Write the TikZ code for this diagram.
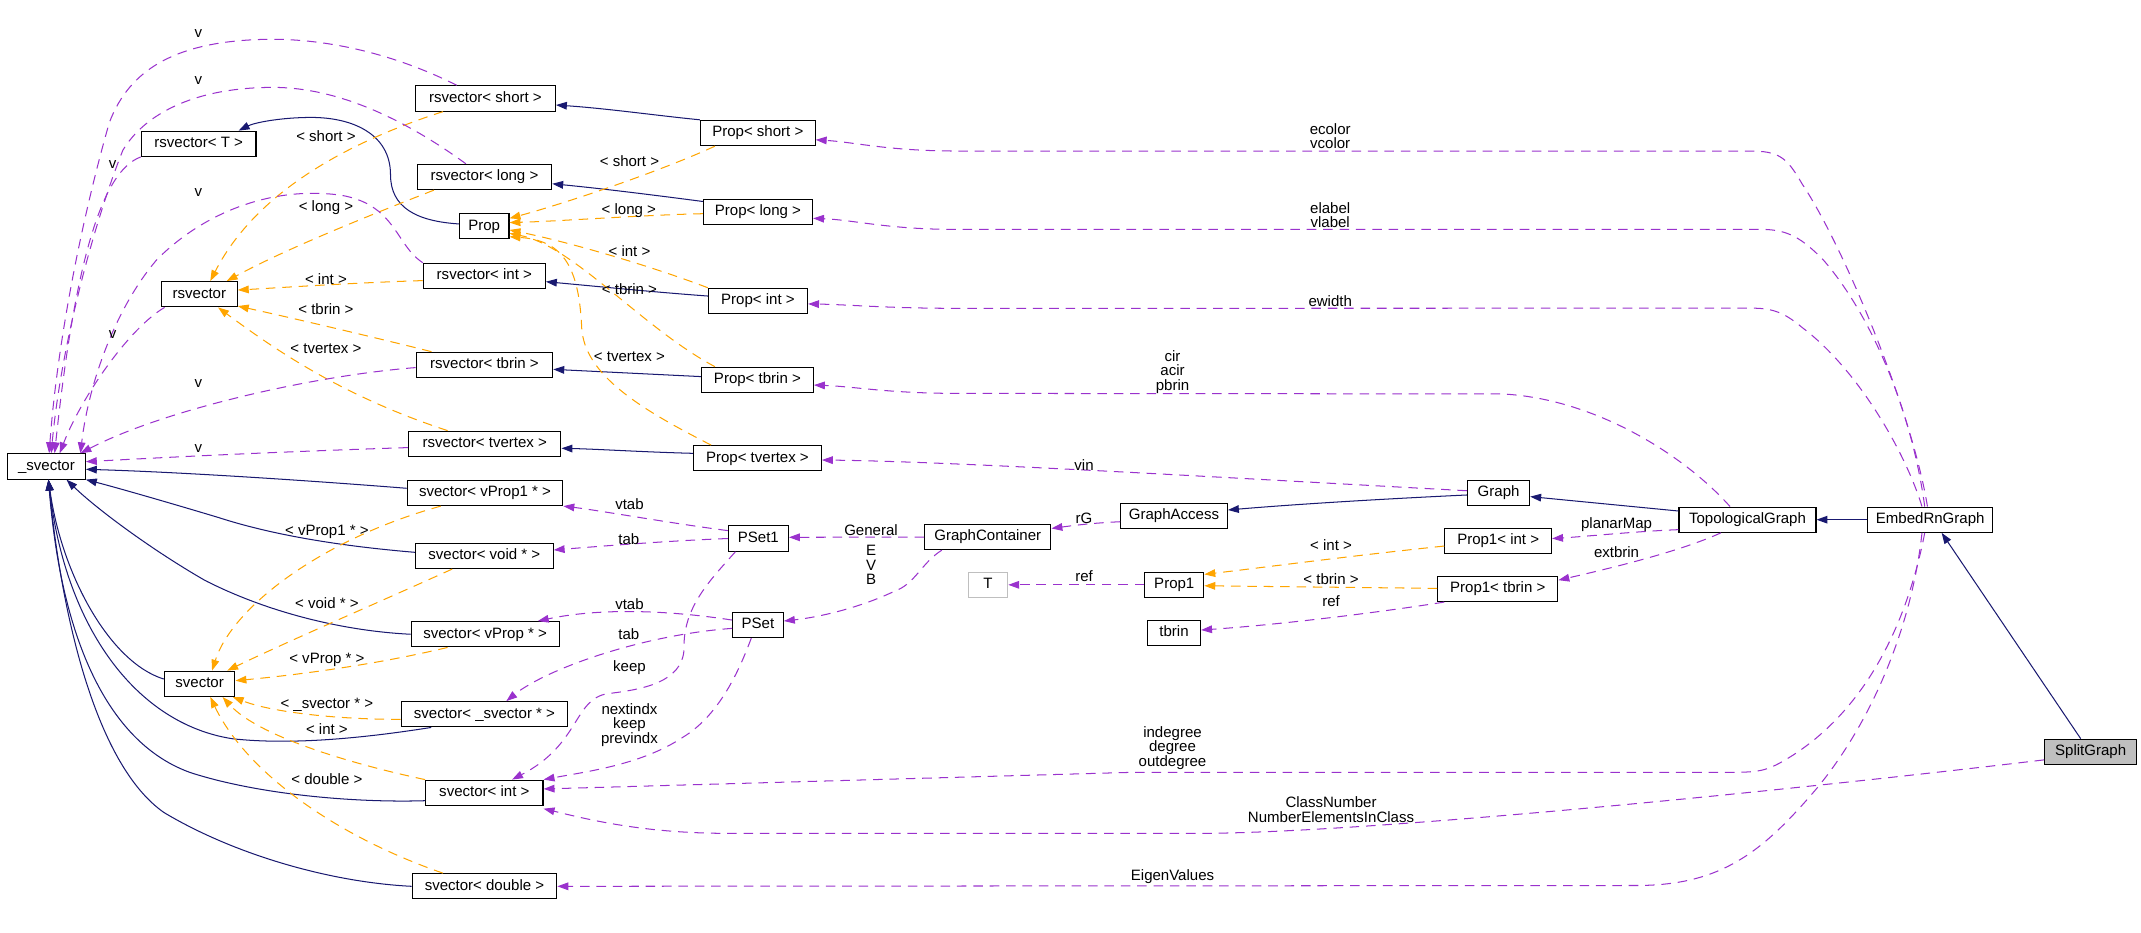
\documentclass[tikz,border=0pt]{standalone}
\usepackage{fontspec}
\setmainfont{Liberation Sans}
\usetikzlibrary{arrows.meta}
\definecolor{midblue}{HTML}{191970}
\definecolor{dorchid}{HTML}{9A32CD}
\definecolor{dorange}{HTML}{FFA500}
\definecolor{lgray}{HTML}{BFBFBF}
\begin{document}
\begin{tikzpicture}[x=1pt,y=-1pt,
  box/.style={draw=black, line width=0.8pt, minimum height=18.5pt, inner sep=0pt, fill=white,
    font=\fontsize{11}{10.6}\selectfont, text height=8pt, text depth=2.3pt},
  lbl/.style={font=\fontsize{11}{10.6}\selectfont, inner sep=0pt, align=center},
  inhedge/.style={draw=midblue, line width=0.75pt, -{Triangle[length=8pt,width=5.6pt]}},
  tmpledge/.style={draw=dorange, line width=0.75pt, dash pattern=on 7pt off 5pt, -{Triangle[length=8pt,width=5.6pt]}},
  useedge/.style={draw=dorchid, line width=0.75pt, dash pattern=on 7pt off 5pt, -{Triangle[length=8pt,width=5.6pt]}}]
\useasboundingbox (0,0) rectangle (1568,683);
% nodes
\node[box, minimum width=102.5pt] (rsvS) at (355.5,72.1) {rsvector< short >};
\node[box, minimum width=84pt] (rsvT) at (145.5,105.3) {rsvector< T >};
\node[box, minimum width=98.5pt] (rsvL) at (354.8,129.6) {rsvector< long >};
\node[box, minimum width=36.3pt] (Prop) at (354.6,165.7) {Prop};
\node[box, minimum width=55.5pt] (rsv) at (146,215.5) {rsvector};
\node[box, minimum width=89.4pt] (rsvI) at (354.7,202) {rsvector< int >};
\node[box, minimum width=100pt] (rsvTb) at (354.8,267.2) {rsvector< tbrin >};
\node[box, minimum width=111.6pt] (rsvTv) at (355,325) {rsvector< tvertex >};
\node[box, minimum width=57pt] (usv) at (34,341.6) {\_svector};
\node[box, minimum width=84pt] (PropS) at (555,97.4) {Prop< short >};
\node[box, minimum width=80pt] (PropL) at (555.1,155.2) {Prop< long >};
\node[box, minimum width=72.6pt] (PropI) at (555.1,220.4) {Prop< int >};
\node[box, minimum width=82pt] (PropTb) at (554.7,278.2) {Prop< tbrin >};
\node[box, minimum width=93.6pt] (PropTv) at (554.7,335.6) {Prop< tvertex >};
\node[box, minimum width=114pt] (svVP1) at (355.2,361) {svector< vProp1 * >};
\node[box, minimum width=100.8pt] (svVoid) at (354.7,407.1) {svector< void * >};
\node[box, minimum width=108.3pt] (svVP) at (355.3,464.5) {svector< vProp * >};
\node[box, minimum width=51.7pt] (sv) at (146.2,500.8) {svector};
\node[box, minimum width=122pt] (svSv) at (354.8,523.1) {svector< \_svector * >};
\node[box, minimum width=86pt] (svInt) at (354.7,580.6) {svector< int >};
\node[box, minimum width=106pt] (svDbl) at (354.8,649.1) {svector< double >};
\node[box, minimum width=44pt] (PSet1) at (555.4,394.4) {PSet1};
\node[box, minimum width=37.2pt] (PSet) at (555.1,457.7) {PSet};
\node[box, minimum width=92.5pt] (GC) at (723.4,393.3) {GraphContainer};
\node[box, minimum width=78.2pt] (GA) at (859.8,377.7) {GraphAccess};
\node[box, minimum width=45.5pt] (Graph) at (1097.5,361) {Graph};
\node[box, minimum width=100.3pt] (TG) at (1279.8,380.6) {TopologicalGraph};
\node[box, minimum width=91.6pt] (ERG) at (1413.6,380.6) {EmbedRnGraph};
\node[box, minimum width=78.2pt] (P1I) at (1097.2,396.2) {Prop1< int >};
\node[box, minimum width=28.8pt, draw=lgray] (Tn) at (723.6,428.3) {T};
\node[box, minimum width=43.2pt] (Prop1) at (860,428.3) {Prop1};
\node[box, minimum width=88pt] (P1Tb) at (1096.9,431.3) {Prop1< tbrin >};
\node[box, minimum width=38.9pt] (tbrin) at (859.8,463.4) {tbrin};
\node[box, minimum width=67.4pt, fill=lgray] (SG) at (1531.1,550.6) {SplitGraph};
% inheritance edges
\draw[inhedge] (PropS.north west) .. controls (480,84.5) and (445,79.5) .. ([yshift=-4.8pt]rsvS.east);
\draw[inhedge] ([yshift=-2pt]PropL.north west) .. controls (480,143) and (440,138) .. ([yshift=-5pt]rsvL.east);
\draw[inhedge] ([yshift=3.6pt]PropI.west) .. controls (480,214) and (440,210) .. ([yshift=-4.3pt]rsvI.east);
\draw[inhedge] ([yshift=2.4pt]PropTb.west) -- ([yshift=-3.3pt]rsvTb.east);
\draw[inhedge] ([yshift=3.6pt]PropTv.west) .. controls (470,331) and (440,329) .. ([yshift=-3.3pt]rsvTv.east);
\draw[inhedge] ([yshift=1.7pt]Prop.west) .. controls (305,162) and (286,152) .. (286,128) .. controls (286,98) and (258,86) .. (228,86) .. controls (205,86) and (186,90) .. ([xshift=29.3pt]rsvT.north);
\draw[inhedge] ([yshift=3.4pt]svVP1.west) .. controls (240,353) and (140,346) .. ([yshift=-2.1pt]usv.east);
\draw[inhedge] ([yshift=2.6pt]svVoid.west) .. controls (250,400) and (200,392) .. (160,379) .. controls (120,367) and (85,357) .. (usv.south east);
\draw[inhedge] (svVP.west) .. controls (250,462) and (195,448) .. (150,425) .. controls (110,402) and (70,372) .. ([xshift=14.7pt]usv.south);
\draw[inhedge] ([yshift=3.5pt]sv.west) .. controls (80,485) and (45,420) .. ([xshift=1.5pt]usv.south);
\draw[inhedge] ([xshift=-39pt]svSv.south) .. controls (270,540) and (215,546) .. (170,541) .. controls (100,530) and (48,460) .. ([xshift=1.5pt]usv.south);
\draw[inhedge] ([yshift=-5.8pt]svInt.west) .. controls (260,588) and (190,582) .. (140,566) .. controls (80,545) and (45,470) .. ([xshift=1.5pt]usv.south);
\draw[inhedge] (svDbl.west) .. controls (240,646) and (170,625) .. (120,595) .. controls (70,560) and (45,450) .. ([xshift=1.5pt]usv.south);
\draw[inhedge] ([yshift=-3.3pt]TG.north west) -- ([yshift=-2.7pt]Graph.east);
\draw[inhedge] ([yshift=-1.5pt]Graph.west) .. controls (1000,366) and (940,370) .. ([yshift=4.2pt]GA.east);
\draw[inhedge] (ERG.west) -- (TG.east);
\draw[inhedge] ([xshift=-7.3pt]SG.north) -- ([xshift=8.4pt]ERG.south);
% template edges
\draw[tmpledge] ([xshift=-31pt]rsvS.south) .. controls (230,112) and (180,155) .. ([xshift=8pt]rsv.north);
\draw[tmpledge] ([xshift=-37pt]rsvL.south) .. controls (270,158) and (210,182) .. ([xshift=20pt]rsv.north);
\draw[tmpledge] ([yshift=-3.5pt]rsvI.west) .. controls (260,207) and (200,211) .. ([yshift=3.1pt]rsv.east);
\draw[tmpledge] ([xshift=-38.8pt]rsvTb.north) .. controls (270,246) and (210,232) .. ([yshift=1pt]rsv.south east);
\draw[tmpledge] ([xshift=-27.2pt]rsvTv.north) .. controls (250,290) and (200,255) .. ([xshift=13.7pt]rsv.south);
\draw[tmpledge] ([xshift=-31.4pt]PropS.south) .. controls (480,127) and (410,150) .. ([yshift=5.8pt]Prop.east);
\draw[tmpledge] ([yshift=-1.3pt]PropL.west) .. controls (470,157.5) and (410,162) .. ([yshift=2.7pt]Prop.east);
\draw[tmpledge] (PropI.north west) .. controls (480,196) and (420,178) .. ([yshift=-2.7pt]Prop.east);
\draw[tmpledge] ([xshift=-31.1pt]PropTb.north) .. controls (470,240) and (420,180) .. ([yshift=-5.2pt]Prop.east);
\draw[tmpledge] ([xshift=-33.9pt]PropTv.north) .. controls (470,300) and (428,275) .. (426,240) .. controls (424,192) and (410,176) .. ([yshift=2pt]Prop.south east);
\draw[tmpledge] ([xshift=-32.4pt]svVP1.south) .. controls (235,395) and (170,445) .. ([xshift=9.1pt]sv.north);
\draw[tmpledge] ([xshift=-23.5pt]svVoid.south) .. controls (280,440) and (210,470) .. ([xshift=20.2pt]sv.north);
\draw[tmpledge] ([xshift=-27.5pt]svVP.south) .. controls (270,488) and (210,495) .. ([yshift=2.3pt]sv.east);
\draw[tmpledge] ([yshift=-3.7pt]svSv.west) .. controls (250,527) and (200,522) .. ([xshift=-2pt]sv.south east);
\draw[tmpledge] (svInt.north west) .. controls (260,560) and (190,540) .. ([xshift=16.8pt]sv.south);
\draw[tmpledge] ([xshift=-30.4pt]svDbl.north) .. controls (245,612) and (180,565) .. ([xshift=7.8pt]sv.south);
\draw[tmpledge] ([yshift=-3.7pt]P1I.west) .. controls (990,407) and (930,415) .. ([yshift=-2pt]Prop1.north east);
\draw[tmpledge] ([yshift=0.4pt]P1Tb.west) -- ([yshift=-0.7pt]Prop1.east);
% usage edges
\draw[useedge] ([xshift=-21pt]rsvS.north) .. controls (290,40) and (240,28) .. (195,28.8) .. controls (130,30) and (95,50) .. (80,90) .. controls (60,160) and (42,250) .. ([xshift=2pt]usv.north);
\draw[useedge] ([xshift=-13.6pt]rsvL.north) .. controls (300,90) and (250,64) .. (200,64) .. controls (140,64) and (105,85) .. (90,110) .. controls (70,160) and (45,250) .. ([xshift=3.5pt]usv.north);
\draw[useedge] (rsvT.south west) .. controls (75,125) and (55,190) .. ([xshift=6pt]usv.north);
\draw[useedge] ([xshift=2.7pt]rsv.south west) .. controls (95,240) and (60,290) .. ([xshift=9.7pt]usv.north);
\draw[useedge] (rsvI.north west) .. controls (290,180) and (290,150) .. (250,143) .. controls (200,136) and (150,155) .. (115,190) .. controls (85,225) and (65,280) .. ([xshift=-4pt]usv.north east);
\draw[useedge] ([yshift=-2pt]rsvTb.west) .. controls (230,275) and (120,300) .. ([xshift=-4pt]usv.north east);
\draw[useedge] ([yshift=-2.8pt]rsvTv.west) .. controls (200,331) and (130,334.5) .. ([yshift=3.5pt]usv.east);
\draw[useedge] ([yshift=5.8pt]PSet1.west) .. controls (490,383) and (440,374) .. (svVP1.south east);
\draw[useedge] (PSet1.west) .. controls (490,396) and (440,400) .. ([yshift=4.3pt]svVoid.east);
\draw[useedge] ([yshift=3.6pt]PSet.west) .. controls (490,447) and (440,445) .. ([xshift=-16pt]svVP.north east);
\draw[useedge] ([yshift=-2.5pt]PSet.west) .. controls (470,465) and (400,490) .. ([xshift=16pt]svSv.north);
\draw[useedge] ([xshift=5.6pt]PSet1.south west) .. controls (520,425) and (500,445) .. (501,475) .. controls (500,500) and (470,505) .. (445,508) .. controls (420,512) and (425,545) .. ([xshift=20.3pt]svInt.north);
\draw[useedge] ([xshift=-4.9pt]PSet.south) .. controls (540,495) and (525,525) .. (500,540) .. controls (470,560) and (430,565) .. (svInt.north east);
\draw[useedge] (GC.west) -- ([yshift=0.9pt]PSet1.east);
\draw[useedge] ([xshift=13pt]GC.south west) .. controls (675,412) and (670,428) .. (655,433) .. controls (630,445) and (600,452) .. ([yshift=2.9pt]PSet.east);
\draw[useedge] ([yshift=-4.4pt]GA.west) .. controls (800,383) and (785,385) .. ([yshift=6.3pt]GC.east);
\draw[useedge] ([yshift=1.6pt]Graph.west) .. controls (900,350) and (700,338) .. ([yshift=-1.3pt]PropTv.east);
\draw[useedge] (Prop1.west) -- (Tn.east);
\draw[useedge] ([xshift=5.2pt]P1Tb.south west) .. controls (1000,450) and (930,458) .. ([yshift=2pt]tbrin.east);
\draw[useedge] ([yshift=-7.3pt]TG.west) .. controls (1200,389) and (1160,393) .. ([yshift=1.8pt]P1I.east);
\draw[useedge] ([xshift=-19.5pt]TG.south) .. controls (1230,404) and (1180,416) .. ([yshift=6.4pt]P1Tb.east);
\draw[useedge] ([xshift=-12.8pt]TG.north) .. controls (1235,335) and (1170,292) .. (1100,288.5) -- (700,288.1) .. controls (650,288) and (625,283) .. ([yshift=-3.8pt]PropTb.east);
\draw[useedge] ([xshift=-2pt]ERG.north) .. controls (1400,300) and (1350,180) .. (1320,135) .. controls (1310,118) and (1305,111) .. (1285,110.7) -- (700,110.6) .. controls (650,110.5) and (625,104) .. ([yshift=-5pt]PropS.east);
\draw[useedge] ([xshift=-4pt]ERG.north) .. controls (1400,300) and (1370,230) .. (1335,190) .. controls (1320,175) and (1310,168) .. (1290,168) -- (700,168) .. controls (650,168) and (625,161) .. ([yshift=-4.7pt]PropL.east);
\draw[useedge] ([xshift=-6pt]ERG.north) .. controls (1395,330) and (1360,270) .. (1320,240) .. controls (1308,230) and (1300,226) .. (1285,225.7) -- (700,225.8) .. controls (650,225.8) and (620,223) .. ([yshift=-2.2pt]PropI.east);
\draw[useedge] ([xshift=-4pt]ERG.south) .. controls (1400,440) and (1375,515) .. (1310,555) .. controls (1295,564) and (1290,565.5) .. (1270,565.6) -- (830,565.6) -- ([yshift=2.8pt]svInt.east);
\draw[useedge] ([xshift=-6pt]ERG.south) .. controls (1400,460) and (1370,530) .. (1330,578) .. controls (1290,625) and (1260,648) .. (1200,648.5) -- (svDbl.east);
\draw[useedge] ([yshift=-5.9pt]SG.west) .. controls (1300,580) and (1000,610) .. (880,610.3) -- (530,610.3) .. controls (470,610) and (430,600) .. ([yshift=-2pt]svInt.south east);
% labels
\node[lbl] (lv1) at (145.2,24.4) {v};
\node[lbl] (lv2) at (145.2,59.3) {v};
\node[lbl] (lv3) at (82.4,120.8) {v};
\node[lbl] (lv4) at (145.2,140.8) {v};
\node[lbl] (lv5) at (82.4,245.3) {v};
\node[lbl] (lv6) at (145.2,281.2) {v};
\node[lbl] (lv7) at (145.2,328.8) {v};
\node[lbl] (lr1) at (238.7,99.6) {< short >};
\node[lbl] (lr2) at (238.7,151.8) {< long >};
\node[lbl] (lr3) at (238.7,204.3) {< int >};
\node[lbl] (lr4) at (238.7,226.3) {< tbrin >};
\node[lbl] (lr5) at (238.7,255.6) {< tvertex >};
\node[lbl] (lp1) at (461,117.9) {< short >};
\node[lbl] (lp2) at (460.5,154.5) {< long >};
\node[lbl] (lp3) at (461,183.6) {< int >};
\node[lbl] (lp4) at (461,211.6) {< tbrin >};
\node[lbl] (lp5) at (461,261.2) {< tvertex >};
\node[lbl] (ls1) at (239.4,389.4) {< vProp1 * >};
\node[lbl] (ls2) at (239.4,441.4) {< void * >};
\node[lbl] (ls3) at (239.4,483.4) {< vProp * >};
\node[lbl] (ls4) at (239.4,516.3) {< \_svector * >};
\node[lbl] (ls5) at (239.4,533.9) {< int >};
\node[lbl] (ls6) at (239.4,570.5) {< double >};
\node[lbl] (lu1) at (461,369.4) {vtab};
\node[lbl] (lu2) at (460.5,394.5) {tab};
\node[lbl] (lu3) at (461,442.8) {vtab};
\node[lbl] (lu4) at (460.5,464.6) {tab};
\node[lbl] (lu5) at (461,489.2) {keep};
\node[lbl] (lu6) at (461,531) {nextindx\\keep\\previndx};
\node[lbl] (lg1) at (637.9,388.6) {General};
\node[lbl] (lg2) at (637.9,413.8) {E\\V\\B};
\node[lbl] (lg3) at (793.9,379.9) {rG};
\node[lbl] (lg4) at (793.9,340.6) {vin};
\node[lbl] (lg5) at (793.9,422.3) {ref};
\node[lbl] (lg6) at (974.8,399.1) {< int >};
\node[lbl] (lg7) at (974.8,423.8) {< tbrin >};
\node[lbl] (lg8) at (974.8,440.2) {ref};
\node[lbl] (lt1) at (1183.9,384.4) {planarMap};
\node[lbl] (lt2) at (1183.9,404.4) {extbrin};
\node[lbl] (lt3) at (858.7,272.2) {cir\\acir\\pbrin};
\node[lbl] (le1) at (974.2,99.85) {ecolor\\vcolor};
\node[lbl] (le2) at (974.2,157.7) {elabel\\vlabel};
\node[lbl] (le3) at (974.2,220.2) {ewidth};
\node[lbl] (le4) at (858.7,547.6) {indegree\\degree\\outdegree};
\node[lbl] (le5) at (974.8,593) {ClassNumber\\NumberElementsInClass};
\node[lbl] (le6) at (858.7,642) {EigenValues};
\end{tikzpicture}
\end{document}
